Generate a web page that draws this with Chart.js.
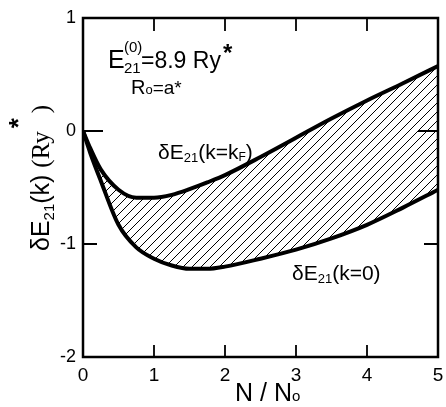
<!DOCTYPE html>
<html>
<head>
<meta charset="UTF-8">
<title>dE21 vs N/N0</title>
<script src="https://cdn.jsdelivr.net/npm/chart.js"></script>
<style>
  body { margin: 0; background: #fff; }
  .wrap { width: 446px; height: 407px; position: relative; }
</style>
</head>
<body>
<div class="wrap"><canvas id="chart"></canvas></div>
<script>
// N/N0 values and the two bounding curves (Ry*)
const nRatio  = [0, 0.1, 0.25, 0.5, 0.75, 1, 1.25, 1.5, 1.75, 2, 2.5, 3, 3.5, 4, 4.5, 5];
const dE_kF   = [0, -0.15, -0.34, -0.52, -0.59, -0.59, -0.565, -0.515, -0.455, -0.39, -0.23, -0.06, 0.11, 0.27, 0.42, 0.575];
const dE_k0   = [0, -0.19, -0.44, -0.83, -1.03, -1.13, -1.19, -1.22, -1.22, -1.2, -1.13, -1.05, -0.95, -0.83, -0.68, -0.52];
const xTicks  = [0, 1, 2, 3, 4, 5];
const yTicks  = [-2, -1, 0, 1];

const SANS = '"Liberation Sans", Arial, sans-serif';
const SERIF = '"Liberation Serif", "Times New Roman", serif';

// diagonal hatch pattern
const pc = document.createElement('canvas');
pc.width = pc.height = 9;
const g = pc.getContext('2d');
g.strokeStyle = '#000';
g.lineWidth = 1;
g.beginPath();
g.moveTo(0, 9); g.lineTo(9, 0);
g.moveTo(-1, 1); g.lineTo(1, -1);
g.moveTo(8, 10); g.lineTo(10, 8);
g.stroke();

const ctx = document.getElementById('chart').getContext('2d');
const hatch = ctx.createPattern(pc, 'repeat');

// draw a run of text pieces: [text, font, dy]
function run(c, x, y, pieces) {
  for (const [t, f, dy] of pieces) {
    c.font = f;
    c.fillText(t, x, y + (dy || 0));
    x += c.measureText(t).width;
  }
  return x;
}

const framePlugin = {
  id: 'frame',
  afterDraw(chart) {
    const c = chart.ctx, a = chart.chartArea;
    const xs = chart.scales.x, ys = chart.scales.y;
    c.save();
    c.strokeStyle = '#000';
    c.lineWidth = 2.5;
    c.strokeRect(a.left, a.top, a.right - a.left, a.bottom - a.top);
    c.lineWidth = 1.8;
    c.beginPath();
    [1, 2, 3, 4].forEach(v => {
      const px = xs.getPixelForValue(v);
      c.moveTo(px, a.bottom); c.lineTo(px, a.bottom - 12);
      c.moveTo(px, a.top); c.lineTo(px, a.top + 13);
    });
    [0, -1].forEach(v => {
      const py = ys.getPixelForValue(v);
      const len = v === 0 ? 20 : 14;
      c.moveTo(a.left, py); c.lineTo(a.left + len, py);
      c.moveTo(a.right, py); c.lineTo(a.right - len, py);
    });
    c.stroke();

    c.fillStyle = '#000';
    c.textBaseline = 'alphabetic';
    c.textAlign = 'left';

    // E21(0) = 8.9 Ry*
    c.font = '25px ' + SANS;
    c.fillText('E', 108, 68);
    c.font = '15px ' + SANS;
    c.fillText('(0)', 124, 52);
    c.fillText('21', 124, 73);
    let x = run(c, 141, 68, [['=8.9 Ry', '23px ' + SANS]]);
    c.font = 'bold 24px ' + SANS;
    c.fillText('*', x + 2, 61);

    // R0 = a*
    x = run(c, 131, 94, [['R', '20px ' + SANS]]);
    x = run(c, x, 94, [['o', '13px ' + SANS, 0]]);
    run(c, x, 94, [['=a*', '19px ' + SANS]]);

    // dE21(k=kF)
    x = run(c, 158, 159, [['δE', '21px ' + SANS], ['21', '13px ' + SANS, 3], ['(k=k', '21px ' + SANS]]);
    run(c, x, 159, [['F', '12px ' + SANS, 2], [')', '21px ' + SANS]]);

    // dE21(k=0)
    run(c, 292, 280, [['δE', '21px ' + SANS], ['21', '13px ' + SANS, 3], ['(k=0)', '21px ' + SANS]]);

    // x title N/N0
    run(c, 235, 401, [['N / N', '25px ' + SANS], ['o', '15px ' + SANS, 0]]);

    // y title, rotated
    c.translate(49, 251);
    c.rotate(-Math.PI / 2);
    x = run(c, 0, 0, [['δE', '25px ' + SANS], ['21', '15px ' + SANS, 5], ['(k) ', '25px ' + SANS], ['(Ry', '25px ' + SERIF]]);
    c.font = 'bold 26px ' + SANS;
    c.fillText('*', x + 3, -22);
    c.font = '25px ' + SERIF;
    c.fillText(')', x + 18, 0);
    c.restore();
  }
};

new Chart(ctx, {
  type: 'line',
  data: {
    datasets: [
      {
        label: 'k=kF',
        data: nRatio.map((n, i) => ({ x: n, y: dE_kF[i] })),
        borderColor: '#000',
        borderWidth: 4,
        pointRadius: 0,
        cubicInterpolationMode: 'monotone',
        fill: '+1',
        backgroundColor: hatch
      },
      {
        label: 'k=0',
        data: nRatio.map((n, i) => ({ x: n, y: dE_k0[i] })),
        borderColor: '#000',
        borderWidth: 4,
        pointRadius: 0,
        cubicInterpolationMode: 'monotone',
        fill: false
      }
    ]
  },
  options: {
    responsive: true,
    maintainAspectRatio: false,
    animation: false,
    layout: { padding: { top: 18, right: 8, left: 0, bottom: 0 } },
    plugins: { legend: { display: false }, tooltip: { enabled: false } },
    scales: {
      x: {
        type: 'linear',
        min: 0, max: 5,
        afterBuildTicks: s => { s.ticks = xTicks.map(v => ({ value: v })); },
        grid: { display: false, drawTicks: false },
        border: { display: false },
        ticks: { color: '#000', padding: 7, font: { size: 19, family: SANS } },
        afterFit: s => { s.height = 50; s.paddingRight = 0; s.paddingLeft = 0; }
      },
      y: {
        type: 'linear',
        min: -2, max: 1,
        afterBuildTicks: s => { s.ticks = yTicks.map(v => ({ value: v })); },
        grid: { display: false, drawTicks: false },
        border: { display: false },
        ticks: { color: '#000', padding: 7, font: { size: 18, family: SANS } },
        afterFit: s => { s.width = 83; }
      }
    }
  },
  plugins: [framePlugin]
});
</script>
</body>
</html>
